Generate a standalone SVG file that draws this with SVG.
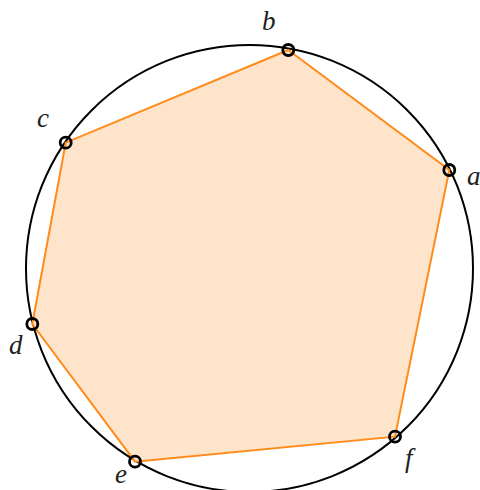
<svg xmlns="http://www.w3.org/2000/svg" width="480" height="490" viewBox="0 0 480 490">
<style>
.lbl{font-family:"Liberation Serif","DejaVu Serif",serif;font-style:italic;font-size:27px;fill:#222}
.pt{fill:none;stroke:#000;stroke-width:2.8}
</style>
<rect width="480" height="490" fill="#fff"/>
<g id="circle"><circle cx="249.5" cy="268.5" r="223.5" fill="none" stroke="#000" stroke-width="2"/></g>
<g id="polygon"><polygon points="288.3,50 449.3,170 395,436.7 135,461.7 32.3,324 65.7,142.7" fill="#fee4cb" stroke="#ff8c1a" stroke-width="2" stroke-linejoin="miter"/></g>
<g id="a"><circle class="pt" cx="449.3" cy="170" r="5.5"/><text class="lbl" x="467" y="185">a</text></g>
<g id="b"><circle class="pt" cx="288.3" cy="50" r="5.5"/><text class="lbl" x="262" y="30">b</text></g>
<g id="c"><circle class="pt" cx="65.7" cy="142.7" r="5.5"/><text class="lbl" x="37" y="127">c</text></g>
<g id="d"><circle class="pt" cx="32.3" cy="324" r="5.5"/><text class="lbl" x="9" y="354">d</text></g>
<g id="e"><circle class="pt" cx="135" cy="461.7" r="5.5"/><text class="lbl" x="115" y="483">e</text></g>
<g id="f"><circle class="pt" cx="395" cy="436.7" r="5.5"/><text class="lbl" x="405" y="467">f</text></g>
</svg>
